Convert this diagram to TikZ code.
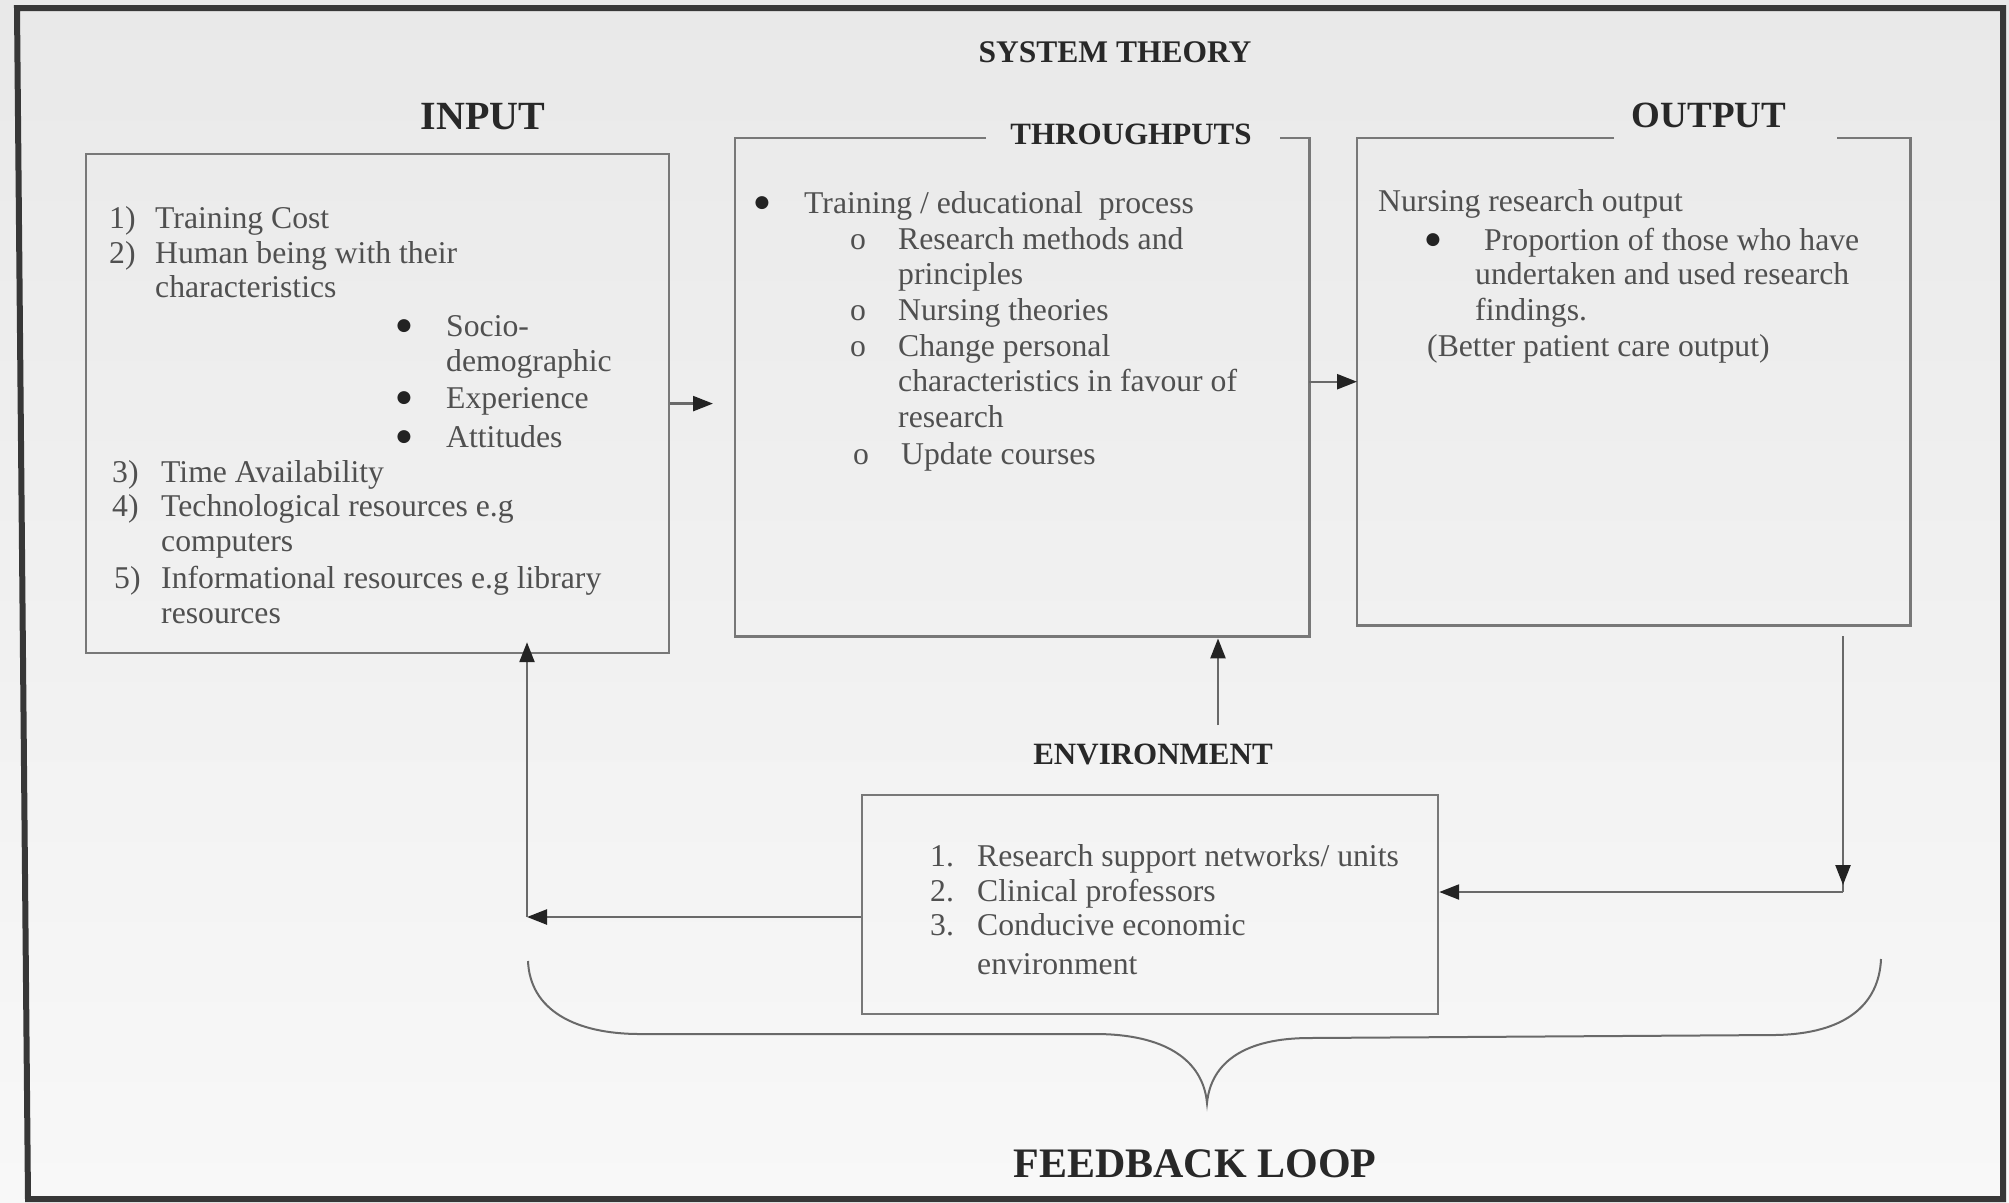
\documentclass[tikz,border=0pt]{standalone}
\usepackage{fontspec}
\setmainfont{Liberation Serif}
\newfontfamily\dejavufam{DejaVu Sans}
\usetikzlibrary{arrows.meta,calc}
\definecolor{bgtop}{RGB}{233,233,233}
\definecolor{bgmid}{RGB}{227,227,227}
\definecolor{bgbot}{RGB}{248,248,248}
\definecolor{framec}{RGB}{55,55,55}
\definecolor{boxc}{RGB}{120,120,120}
\definecolor{linec}{RGB}{105,105,105}
\definecolor{tipc}{RGB}{35,35,35}
\definecolor{txtc}{RGB}{80,80,80}
\definecolor{titc}{RGB}{40,40,40}
\tikzset{
  boxshape/.style={rectangle, inner sep=0pt, anchor=north west},
  boxline/.style={draw=boxc, line width=2.2pt},
  wire/.style={draw=linec, line width=2.4pt},
  conn/.style={wire, -{Triangle[length=20pt,width=15pt,color=tipc]}},
  bodytxt/.style={text=txtc, font=\fontsize{31.7}{35}\selectfont, inner sep=0pt, anchor=base west},
  bmark/.style={text=txtc, font=\fontsize{31.7}{35}\selectfont, inner sep=0pt, anchor=base},
  bdot/.style={text=tipc, font=\dejavufam\fontsize{17}{17}\selectfont, inner sep=0pt, anchor=center},
  headtxt/.style={text=titc, font=\bfseries\fontsize{#1}{#1}\selectfont, inner sep=0pt},
}
\begin{document}
\begin{tikzpicture}[x=1pt,y=-1pt]
\useasboundingbox (0,0) rectangle (2009,1202);
\shade[top color=bgtop, middle color=bgmid, bottom color=bgbot] (0,0) rectangle (2009,1202);
\draw[framec, line width=6pt, line join=miter] (17,8) -- (2003,8) -- (2003,1199) -- (28,1199) -- cycle;

% boxes
\node[boxshape, boxline, minimum width=583pt, minimum height=499pt] (inbox) at (85,153) {};
\node[boxshape, minimum width=574pt, minimum height=498pt] (thbox) at (735,138) {};
\draw[boxline] (986,138) -- (thbox.north west) -- (thbox.south west) -- (thbox.south east) -- (thbox.north east) -- (1280,138);
\node[boxshape, minimum width=553pt, minimum height=487pt] (outbox) at (1357,138) {};
\draw[boxline] (1614,138) -- (outbox.north west) -- (outbox.south west) -- (outbox.south east) -- (outbox.north east) -- (1837,138);
\node[boxshape, boxline, minimum width=576pt, minimum height=219pt] (envbox) at (861,794) {};

% titles
\node[headtxt=31.5] (systitle) at (1115,52) {SYSTEM THEORY};
\node[headtxt=40] (intitle) at (483,117) {INPUT};
\node[headtxt=31] (thtitle) at (1131,134) {THROUGHPUTS};
\node[headtxt=37] (outtitle) at (1709,115) {OUTPUT};
\node[headtxt=31] (envtitle) at (1153,754) {ENVIRONMENT};
\node[headtxt=42] (fbtitle) at (1195,1164) {FEEDBACK LOOP};

% input text
\node[bodytxt] (i1n) at (109,228) {1)};
\node[bodytxt] (i1) at (155,228) {Training Cost};
\node[bodytxt] (i2n) at (109,263) {2)};
\node[bodytxt] (i2) at (155,263) {Human being with their};
\node[bodytxt] (i2b) at (155,297) {characteristics};
\node[bdot] (b1) at (404,326) {●};
\node[bodytxt] (i2c) at (446,336) {Socio-};
\node[bodytxt] (i2d) at (446,371) {demographic};
\node[bdot] (b2) at (404,398) {●};
\node[bodytxt] (i2e) at (446,408) {Experience};
\node[bdot] (b3) at (404,437) {●};
\node[bodytxt] (i2f) at (446,447) {Attitudes};
\node[bodytxt] (i3n) at (112,482) {3)};
\node[bodytxt] (i3) at (161,482) {Time Availability};
\node[bodytxt] (i4n) at (112,516) {4)};
\node[bodytxt] (i4) at (161,516) {Technological resources e.g};
\node[bodytxt] (i4b) at (161,551) {computers};
\node[bodytxt] (i5n) at (114,588) {5)};
\node[bodytxt] (i5) at (161,588) {Informational resources e.g library};
\node[bodytxt] (i5b) at (161,623) {resources};

% throughputs text
\node[bdot] (tb) at (762,203) {●};
\node[bodytxt] (t1) at (804,213) {Training / educational\ \ process};
\node[bmark] (tc1) at (858,249) {o};
\node[bodytxt] (t2) at (898,249) {Research methods and};
\node[bodytxt] (t2b) at (898,284) {principles};
\node[bmark] (tc2) at (858,320) {o};
\node[bodytxt] (t3) at (898,320) {Nursing theories};
\node[bmark] (tc3) at (858,356) {o};
\node[bodytxt] (t4) at (898,356) {Change personal};
\node[bodytxt] (t4b) at (898,391) {characteristics in favour of};
\node[bodytxt] (t4c) at (898,427) {research};
\node[bmark] (tc4) at (861,464) {o};
\node[bodytxt] (t5) at (901,464) {Update courses};

% output text
\node[bodytxt] (o1) at (1378,211) {Nursing research output};
\node[bdot] (ob) at (1433,240) {●};
\node[bodytxt] (o2) at (1484,250) {Proportion of those who have};
\node[bodytxt] (o2b) at (1475,284) {undertaken and used research};
\node[bodytxt] (o2c) at (1475,320) {findings.};
\node[bodytxt] (o3) at (1427,356) {(Better patient care output)};

% environment text
\node[bodytxt] (e1n) at (930,866) {1.};
\node[bodytxt] (e1) at (977,866) {Research support networks/ units};
\node[bodytxt] (e2n) at (930,901) {2.};
\node[bodytxt] (e2) at (977,901) {Clinical professors};
\node[bodytxt] (e3n) at (930,935) {3.};
\node[bodytxt] (e3) at (977,935) {Conducive economic};
\node[bodytxt] (e3b) at (977,974) {environment};

% connectors
\draw[conn, shorten >=22pt] (inbox.east) -- (inbox.east -| thbox.west);
\draw[conn] (outbox.west -| thbox.east) -- (outbox.west);
\coordinate (eup) at (1218,725);
\draw[conn, shorten >=2pt] (eup) -- (eup |- thbox.south);
\coordinate (odown) at (1843,636);
\coordinate (ocorner) at (1843,892);
\draw[wire] (odown) -- (ocorner);
\draw[conn, shorten >=7pt] (odown) -- (ocorner);
\draw[conn] (ocorner) -- (ocorner -| envbox.east);
\coordinate (icorner) at (527,917);
\draw[conn] (icorner -| envbox.west) -- (icorner);
\draw[conn, shorten >=-12pt] (icorner) -- (icorner |- inbox.south);

% feedback brace
\draw[wire, line width=2pt] (528,961) .. controls (530,1010) and (575,1034) .. (640,1034) -- (1095,1034) .. controls (1165,1034) and (1203,1060) .. (1207,1103) .. controls (1211,1062) and (1245,1038) .. (1310,1038) -- (1775,1035) .. controls (1845,1034) and (1879,1005) .. (1881,959);
\end{tikzpicture}
\end{document}
